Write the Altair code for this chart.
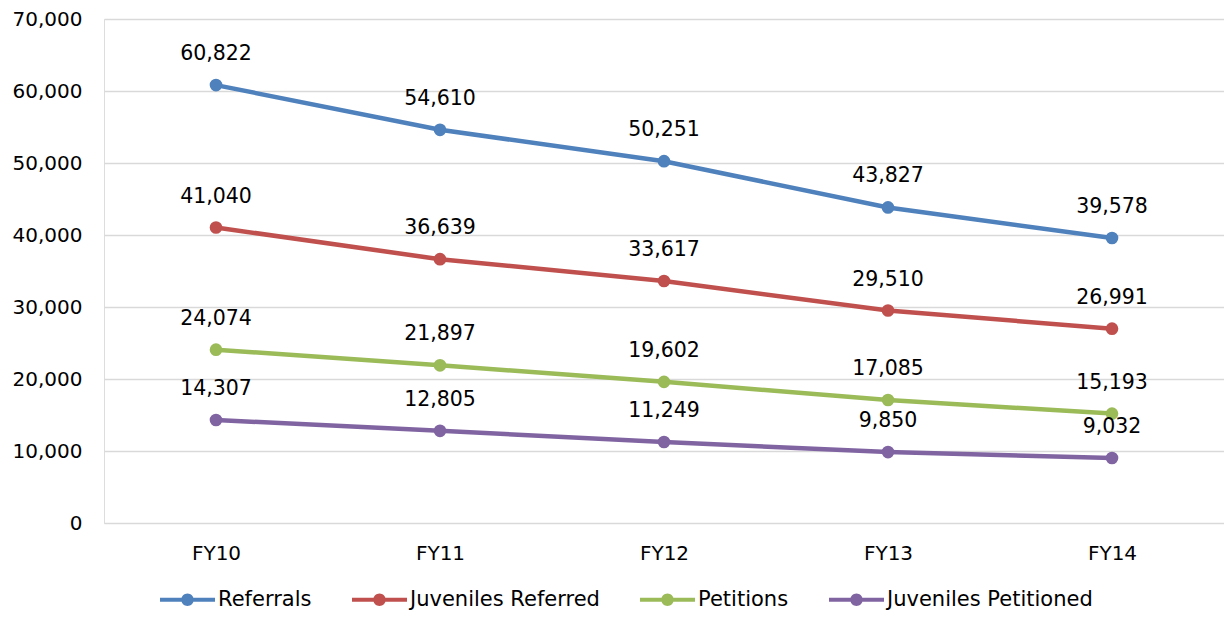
import altair as alt
import pandas as pd

years = ["FY10", "FY11", "FY12", "FY13", "FY14"]
series_names = ["Referrals", "Juveniles Referred", "Petitions", "Juveniles Petitioned"]
referrals = [60822, 54610, 50251, 43827, 39578]
juveniles_referred = [41040, 36639, 33617, 29510, 26991]
petitions = [24074, 21897, 19602, 17085, 15193]
juveniles_petitioned = [14307, 12805, 11249, 9850, 9032]
colors = ["#4F81BD", "#C0504D", "#9BBB59", "#8064A2"]

rows = []
for name, vals in zip(series_names, [referrals, juveniles_referred, petitions, juveniles_petitioned]):
    for y, v in zip(years, vals):
        rows.append({"Year": y, "Series": name, "Value": v})
df = pd.DataFrame(rows)

FONT = "DejaVu Sans"
# legend glyph: a line with a dot, overflowing the nominal 20px symbol box
legend_path = ("M-2.75,-0.2 L2.75,-0.2 L2.75,0.2 L-2.75,0.2 Z "
               "M0.62,0 A0.62,0.62 0 1 1 -0.62,0 A0.62,0.62 0 1 1 0.62,0 Z")

x = alt.X("Year:N", sort=years, scale=alt.Scale(type="point", padding=0.5),
          axis=alt.Axis(title=None, labelAngle=0, labelFontSize=20, labelFont=FONT,
                        labelColor="#000000", labelPadding=20, ticks=False,
                        domain=False, grid=False))
y = alt.Y("Value:Q", scale=alt.Scale(domain=[0, 70000], nice=False),
          axis=alt.Axis(title=None, values=[0, 10000, 20000, 30000, 40000, 50000, 60000, 70000],
                        format=",d", labelFontSize=20, labelFont=FONT, labelColor="#000000",
                        labelPadding=22, ticks=False, domain=False, gridColor="#D9D9D9",
                        gridWidth=1.3))
color = alt.Color("Series:N", scale=alt.Scale(domain=series_names, range=colors),
                  legend=alt.Legend(title=None, orient="none", direction="horizontal",
                                    legendX=73, legendY=570, symbolType=legend_path,
                                    symbolSize=400, symbolStrokeWidth=0,
                                    labelFontSize=21, labelFont=FONT, labelColor="#000000",
                                    labelOffset=20, labelLimit=400, columnPadding=40,
                                    padding=0, symbolOpacity=1,
                                    values=series_names))

base = alt.Chart(df)
lines = base.mark_line(strokeWidth=4.5).encode(x=x, y=y, color=color)
points = base.mark_point(filled=True, size=160, opacity=1).encode(x=x, y=y, color=color)
labels = base.mark_text(dy=-31, fontSize=20.5, font=FONT, color="#000000").encode(
    x=x, y=y, text=alt.Text("Value:Q", format=",d"))

chart = alt.layer(lines, points, labels).properties(
    width=1120, height=504,
    autosize=alt.AutoSizeParams(type="none"),
    padding={"left": 96, "top": 11, "right": 0, "bottom": 90},
).configure_view(stroke=None).configure(background="#FFFFFF")

chart.save("out.html", embed_options={"renderer": "svg", "actions": False})
